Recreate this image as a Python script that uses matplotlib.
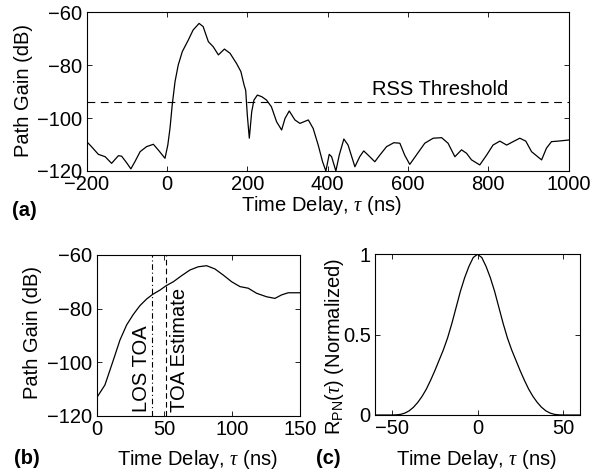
import matplotlib
matplotlib.use("Agg")
import matplotlib.pyplot as plt

plt.rcParams['font.family'] = ['Liberation Sans', 'DejaVu Sans']
plt.rcParams['mathtext.fontset'] = 'custom'
plt.rcParams['mathtext.rm'] = 'Liberation Sans'
plt.rcParams['mathtext.sf'] = 'Liberation Sans'
plt.rcParams['mathtext.it'] = 'Liberation Serif:italic'
plt.rcParams['axes.linewidth'] = 0.8
FS = 14.5

# ---------------- data ----------------
# (a) power delay profile
t_a = [-200, -188, -171, -154, -138, -121, -113, -100, -90, -80, -67, -51, -34, -22, -5,
       2, 7.5, 13, 20, 28, 38, 53, 65, 80, 90, 103, 115, 128, 143, 157, 173, 184, 192,
       196, 200, 205, 211, 216.5, 225, 236, 248, 260, 273, 285.5, 294, 304.5, 318.6,
       331, 352, 364, 376.6, 387.5, 395.7, 404, 410, 420.6, 429, 440.5, 451, 468, 480,
       490, 501, 517.6, 530, 546.8, 565, 580, 592, 604.6, 621, 642, 663, 684, 700, 717,
       733.6, 746, 758.5, 779, 796, 812, 829, 846, 862, 878.7, 893.6, 908, 933, 945,
       957.6, 974, 1000]
g_a = [-108.9, -110.8, -113.7, -114.6, -117.1, -114.2, -114.4, -117.0, -119.2, -116.5,
       -112.7, -110.8, -109.9, -112.0, -115.2, -110.2, -103.8, -95.0, -86.2, -79.9, -74.9,
       -70.5, -66.7, -64.2, -65.4, -71.1, -73.0, -76.1, -73.9, -75.5, -79.3, -82.4, -87.5,
       -89.5, -98.8, -107.6, -97.6, -93.2, -91.3, -91.9, -93.2, -95.7, -101.4, -104.5,
       -100.1, -97.3, -100.7, -102.0, -100.7, -103.9, -110.2, -116.5, -120.0, -113.7,
       -114.6, -120.0, -114.0, -107.9, -110.2, -118.4, -114.6, -112.4, -114.0, -116.5,
       -114.0, -110.8, -109.3, -109.5, -114.0, -117.5, -114.0, -109.5, -107.6, -107.4,
       -109.5, -114.6, -112.0, -113.3, -115.8, -117.7, -114.0, -110.2, -108.7, -110.2,
       -108.9, -107.6, -108.7, -112.7, -115.8, -111.4, -108.9, -108.7, -108.3]
rss_threshold = -94
a_xticks = [-200, 0, 200, 400, 600, 800, 1000]
a_yticks = [-120, -100, -80, -60]

# (b) zoomed profile
t_b = [0, 6.1, 12.3, 17.2, 22.1, 27, 31.9, 36.9, 41.3, 46.7, 51.1, 56.5, 62.7, 68.8,
       74.9, 81.1, 87.2, 93.4, 99.6, 105.7, 111.8, 118, 125.4, 131.5, 136.4, 141.3, 150]
g_b = [-113.3, -108.5, -99.2, -91.7, -86.1, -82.2, -78.9, -76.4, -74.7, -73.1, -71.5,
       -70.0, -67.7, -65.6, -64.4, -64.0, -65.2, -67.5, -70.0, -71.8, -72.4, -74.3,
       -75.6, -76.2, -74.9, -74.1, -74.1]
los_toa = 41
toa_est = 51
b_xticks = [0, 50, 100, 150]
b_yticks = [-120, -100, -80, -60]

# (c) PN autocorrelation
t_c = [-60, -55, -50, -47.5, -45, -42.5, -40, -37.5, -35, -32.5, -30, -27.5, -25, -22.5,
       -20, -17.5, -15, -12.5, -10, -7.5, -5, -2.5, 0, 2.5, 5, 7.5, 10, 12.5, 15, 17.5,
       20, 22.5, 25, 27.5, 30, 32.5, 35, 37.5, 40, 42.5, 45, 47.5, 50, 55, 60]
r_c = [0, 0, 0, 0.001, 0.004, 0.012, 0.026, 0.048, 0.078, 0.115, 0.16, 0.215, 0.275,
       0.34, 0.405, 0.48, 0.57, 0.67, 0.77, 0.855, 0.925, 0.98, 1.0, 0.98, 0.925, 0.855,
       0.77, 0.67, 0.57, 0.48, 0.405, 0.34, 0.275, 0.215, 0.16, 0.115, 0.078, 0.048,
       0.026, 0.012, 0.004, 0.001, 0, 0, 0]
c_xticks = [-50, 0, 50]
c_yticks = [0, 0.5, 1]
c_yticklabels = ['0', '0.5', '1']

xlabel = r'Time Delay, $\tau$ (ns)'

W, H = 593, 471
fig = plt.figure(figsize=(W / 100, H / 100), dpi=100)


def rect(l, r, t, b):
    return [l / W, 1 - b / H, (r - l) / W, (b - t) / H]


def style(ax):
    ax.tick_params(direction='in', top=True, right=True, length=3.5, width=0.6,
                   labelsize=FS, pad=3, colors='black')
    for s in ax.spines.values():
        s.set_linewidth(0.8)


# ---- (a)
ax1 = fig.add_axes(rect(86.7, 568.5, 12.3, 171))
ax1.plot(t_a, g_a, color='black', lw=0.9)
ax1.axhline(rss_threshold, color='black', lw=0.8, linestyle=(0, (7, 5)))
ax1.text(681, -89.3, 'RSS Threshold', ha='center', va='center', fontsize=FS)
ax1.set_xlim(-200, 1000)
ax1.set_ylim(-120, -60)
ax1.set_xticks(a_xticks)
ax1.set_yticks(a_yticks)
style(ax1)
ax1.set_xlabel(xlabel, fontsize=FS)
ax1.xaxis.set_label_coords(0.487, -0.216)
ax1.xaxis.label.set_va('center')
ax1.set_ylabel('Path Gain (dB)', fontsize=FS)
ax1.yaxis.set_label_coords(-0.132, 0.51)
ax1.yaxis.label.set_va('center')

# ---- (b)
ax2 = fig.add_axes(rect(96.7, 300, 255, 415.7))
ax2.plot(t_b, g_b, color='black', lw=0.9)
ax2.axvline(los_toa, color='black', lw=0.8, linestyle=(0, (5, 2.5, 1, 2.5)))
ax2.axvline(toa_est, color='black', lw=0.8, linestyle=(0, (5, 3)))
ax2.text(33, -118.8, 'LOS TOA', rotation=90, ha='center', va='bottom', fontsize=FS)
ax2.text(61.4, -118.8, 'TOA Estimate', rotation=90, ha='center', va='bottom', fontsize=FS)
ax2.set_xlim(0, 150)
ax2.set_ylim(-120, -60)
ax2.set_xticks(b_xticks)
ax2.set_yticks(b_yticks)
style(ax2)
ax2.set_xlabel(xlabel, fontsize=FS)
ax2.xaxis.set_label_coords(0.496, -0.271)
ax2.xaxis.label.set_va('center')
ax2.set_ylabel('Path Gain (dB)', fontsize=FS)
ax2.yaxis.set_label_coords(-0.318, 0.515)
ax2.yaxis.label.set_va('center')

# ---- (c)
ax3 = fig.add_axes(rect(375, 580, 254.3, 415))
ax3.plot(t_c, r_c, color='black', lw=0.9)
ax3.set_xlim(-60, 60)
ax3.set_ylim(0, 1)
ax3.set_xticks(c_xticks)
ax3.set_yticks(c_yticks)
ax3.set_yticklabels(c_yticklabels)
style(ax3)
ax3.set_xlabel(xlabel, fontsize=FS)
ax3.xaxis.set_label_coords(0.496, -0.274)
ax3.xaxis.label.set_va('center')
ax3.set_ylabel(r'R$_{\rm PN}$($\tau$) (Normalized)', fontsize=FS)
ax3.yaxis.set_label_coords(-0.2, 0.423)
ax3.yaxis.label.set_va('center')

fig.text(24 / W, 1 - 210 / H, '(a)', ha='center', va='center', fontsize=FS, weight='bold')
fig.text(27 / W, 1 - 459 / H, '(b)', ha='center', va='center', fontsize=FS, weight='bold')
fig.text(328 / W, 1 - 459 / H, '(c)', ha='center', va='center', fontsize=FS, weight='bold')

fig.savefig('out.png', dpi=100)
